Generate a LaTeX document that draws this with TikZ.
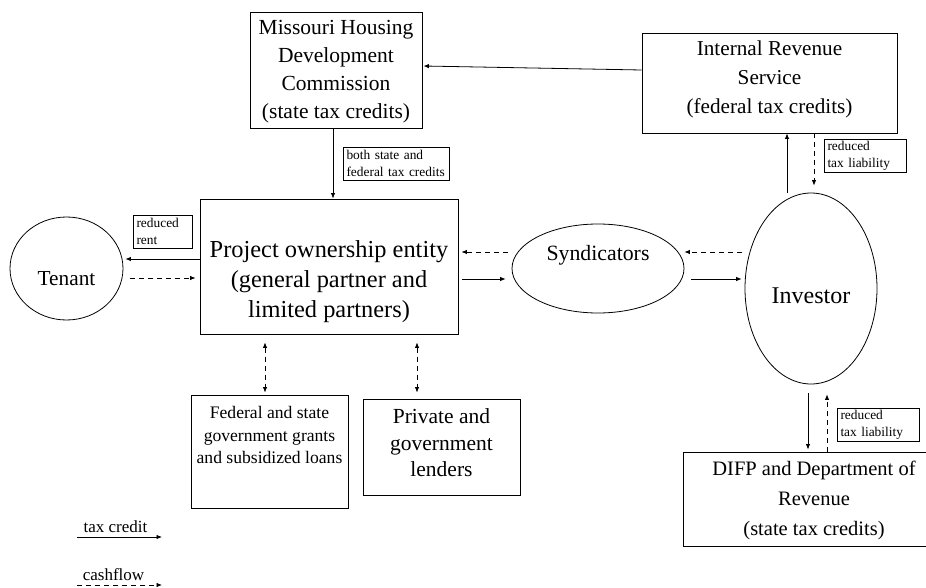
\documentclass[tikz,border=0pt]{standalone}
\usepackage{fontspec}
\setmainfont{Liberation Serif}
\usetikzlibrary{arrows.meta,shapes.geometric,calc}
\begin{document}
\begin{tikzpicture}[x=1pt,y=-1pt,
  box/.style={draw,line width=0.9pt,rectangle,inner sep=0pt},
  ell/.style={draw,line width=0.8pt,ellipse,inner sep=0pt},
  txt/.style={align=center},
  lbl/.style={draw,line width=0.7pt,inner xsep=3pt,inner ysep=2pt,align=left,minimum height=33pt,font=\fontsize{13.4}{17}\selectfont},
  tip/.tip={Latex[length=5.5pt,width=4.5pt]},
  tc/.style={line width=0.8pt,-tip},
  cf/.style={line width=0.8pt,-tip,dash pattern=on 5pt off 4pt},
  cfb/.style={line width=0.8pt,tip-tip,dash pattern=on 5pt off 4pt}
]
\useasboundingbox (0,0) rectangle (926,588);

% boxes
\node[box,minimum width=172pt,minimum height=116pt,
  label={[txt,font=\fontsize{21.5}{28}\selectfont,yshift=-2pt]center:{Missouri Housing\\Development\\Commission\\(state tax credits)}}] (mhdc) at (336,70) {};
\node[box,minimum width=255pt,minimum height=100pt,
  label={[txt,font=\fontsize{21.2}{29}\selectfont,yshift=4pt]center:{Internal Revenue\\Service\\(federal tax credits)}}] (irs) at (769.5,83) {};
\node[box,minimum width=258pt,minimum height=135pt,
  label={[txt,font=\fontsize{24.4}{30}\selectfont,yshift=-15.5pt]center:{Project ownership entity\\(general partner and\\limited partners)}}] (proj) at (329,266.5) {};
\node[box,minimum width=157pt,minimum height=113pt,
  label={[txt,font=\fontsize{17.6}{22.5}\selectfont,yshift=16.5pt]center:{Federal and state\\government grants\\and subsidized loans}}] (fed) at (269.5,451.5) {};
\node[box,minimum width=157pt,minimum height=96pt,
  label={[txt,font=\fontsize{21.5}{26.5}\selectfont,yshift=4pt]center:{Private and\\government\\lenders}}] (priv) at (441.5,447) {};
\node[box,minimum width=262pt,minimum height=94pt,
  label={[txt,font=\fontsize{20.5}{30}\selectfont,yshift=-1.5pt]center:{DIFP and Department of\\Revenue\\(state tax credits)}}] (difp) at (814,499) {};

% ellipses
\node[ell,minimum width=113pt,minimum height=103pt,
  label={[font=\fontsize{21.3}{24}\selectfont,yshift=-10pt]center:Tenant}] (ten) at (66.5,268.5) {};
\node[ell,minimum width=172pt,minimum height=89pt,
  label={[font=\fontsize{21.8}{24}\selectfont,yshift=13.5pt]center:Syndicators}] (syn) at (598,268.5) {};
\node[ell,minimum width=132pt,minimum height=191pt,
  label={[font=\fontsize{24}{28}\selectfont,yshift=-7.5pt]center:Investor}] (inv) at (811,288.5) {};

% small labels
\node[lbl,text width=100pt] (lboth) at (396.5,163.5) {both state and\\federal tax credits};
\node[lbl,text width=53pt] (lrent) at (163,231.5) {reduced\\rent};
\node[lbl,text width=76pt] (ltax1) at (865.5,155.5) {reduced\\tax liability};
\node[lbl,text width=76pt] (ltax2) at (878.5,424.5) {reduced\\tax liability};

% connectors
\draw[tc] ($(irs.west)+(0,-13)$) -- ($(mhdc.east)+(1,-4)$);
\draw[tc] ($(mhdc.south)+(-3,0)$) -- ($(proj.north)+(4,0)$);
\draw[tc] ($(proj.west)+(0,-7.5)$) -- ($(ten.east)+(2,-9.5)$);
\draw[cf] ($(ten.east)+(7,9.5)$) -- ($(proj.west)+(-4,11.5)$);
\draw[cf] ($(syn.west)+(-4,-16.5)$) -- ($(proj.east)+(3,-14.5)$);
\draw[tc] ($(proj.east)+(4,12.5)$) -- ($(syn.west)+(-6,10.5)$);
\draw[cf] ($(inv.west)+(-3,-36.5)$) -- ($(syn.east)+(0,-16.5)$);
\draw[tc] ($(syn.east)+(7,10.5)$) -- ($(inv.west)+(-3,-9.5)$);
\draw[tc] ($(inv.north)+(-24,0)$) -- ($(irs.south)+(17.5,0)$);
\draw[cf] ($(irs.south)+(44.5,0)$) -- ($(inv.north)+(3,-7)$);
\draw[tc] ($(inv.south)+(-3,9)$) -- ($(difp.north)+(-6,-2)$);
\draw[cf] ($(difp.north)+(13,0)$) -- ($(inv.south)+(16,10)$);
\draw[cfb] ($(proj.south)+(-64,8)$) -- ($(fed.north)+(-4.5,-2)$);
\draw[cfb] ($(proj.south)+(88,8)$) -- ($(priv.north)+(-24.5,-6)$);

% legend
\node[font=\fontsize{17}{20}\selectfont] (legtc) at (115.5,527) {tax credit};
\coordinate (lt1) at (77,537);
\coordinate (lt2) at (162,537);
\draw[tc] (lt1) -- (lt2);
\node[font=\fontsize{17}{20}\selectfont] (legcf) at (113.5,574.5) {cashflow};
\coordinate (lc1) at (77,585);
\coordinate (lc2) at (162,585);
\draw[cf] (lc1) -- (lc2);
\end{tikzpicture}
\end{document}
